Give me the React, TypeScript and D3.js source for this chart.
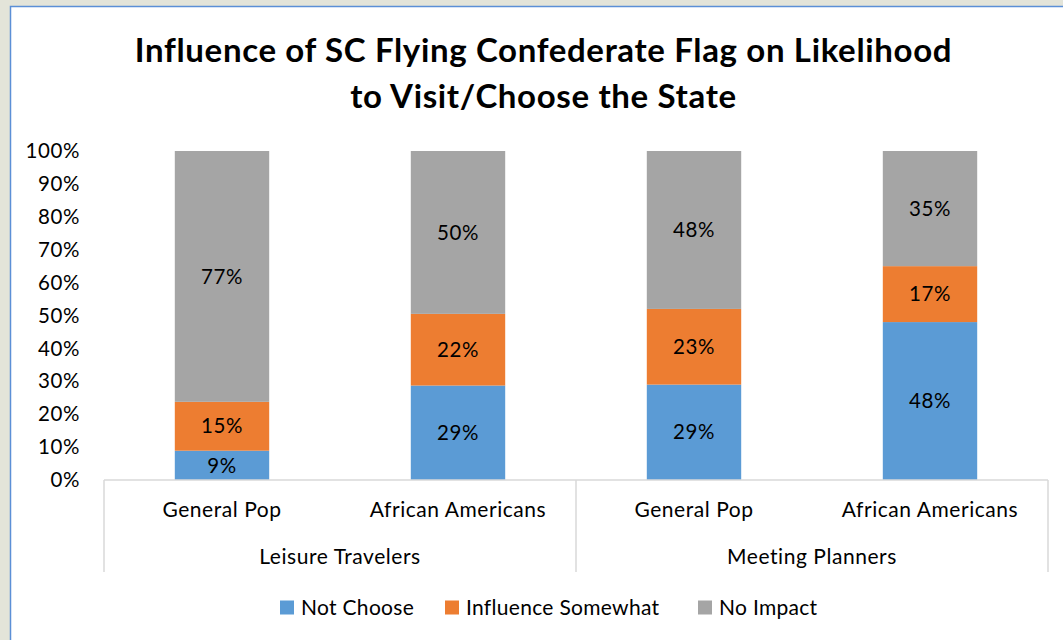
import React from "react";
import * as d3 from "d3";

const categories = ["General Pop", "African Americans", "General Pop", "African Americans"];
const groups = ["Leisure Travelers", "Meeting Planners"];
const seriesNames = ["Not Choose", "Influence Somewhat", "No Impact"];
const notChoose = [9, 29, 29, 48];
const influenceSomewhat = [15, 22, 23, 17];
const noImpact = [77, 50, 48, 35];
const yTicks = [0, 0.1, 0.2, 0.3, 0.4, 0.5, 0.6, 0.7, 0.8, 0.9, 1.0];
const colors = ["#5b9bd5", "#ed7d31", "#a5a5a5"];

const FONT = "Lato, 'Open Sans', sans-serif";

export default function App() {
  const W = 1063, H = 640;
  const left = 104, right = 1048, top = 151, bottom = 480;
  const x = d3.scaleBand<number>().domain(d3.range(categories.length)).range([left, right]).paddingInner(0.6).paddingOuter(0.3);
  const band = d3.scaleBand<number>().domain(d3.range(categories.length)).range([left, right]);
  const y = d3.scaleLinear().domain([0, 1]).range([bottom, top]);
  const rows = categories.map((c, i) => {
    const vals = [notChoose[i], influenceSomewhat[i], noImpact[i]];
    const tot = d3.sum(vals);
    return { c, i, vals, tot };
  });
  const stackData = rows.map(r => ({ i: r.i, s0: r.vals[0] / r.tot, s1: r.vals[1] / r.tot, s2: r.vals[2] / r.tot, raw: r.vals }));
  const stack = d3.stack<any>().keys(["s0", "s1", "s2"])(stackData);
  const fmt = d3.format(".0%");
  const groupX = (g: number) => [band(g * 2)!, band(g * 2 + 1)! + band.bandwidth()];
  const legendX = [280, 445, 698];

  return (
    <svg width={W} height={H} style={{ position: "absolute", left: 0, top: 0, display: "block" }} fontFamily={FONT}>
      <rect x={0} y={0} width={W} height={H} fill="#e3e4d9" />
      <rect x={10.5} y={6.5} width={W + 20} height={H + 20} fill="#ffffff" stroke="#5b8fd6" strokeWidth={1.5} />
      <text x={543.5} y={62} textAnchor="middle" fontSize={33} fontWeight="bold" letterSpacing={0.65} fill="#000">
        Influence of SC Flying Confederate Flag on Likelihood
      </text>
      <text x={543.5} y={108} textAnchor="middle" fontSize={33} fontWeight="bold" letterSpacing={0.65} fill="#000">
        to Visit/Choose the State
      </text>
      {yTicks.map(t => (
        <text key={t} x={80} y={y(t)} dy="0.35em" textAnchor="end" fontSize={20.5} letterSpacing={0.6} fill="#000">{fmt(t)}</text>
      ))}
      {stack.map((layer, k) => (
        <g key={k}>
          {layer.map((d, j) => (
            <rect key={j} x={x(j)} y={y(d[1])} width={x.bandwidth()} height={y(d[0]) - y(d[1])} fill={colors[k]} />
          ))}
        </g>
      ))}
      {stack.map((layer, k) => (
        <g key={"l" + k}>
          {layer.map((d, j) => (
            <text key={j} x={x(j)! + x.bandwidth() / 2} y={(y(d[0]) + y(d[1])) / 2} dy="0.35em" textAnchor="middle" fontSize={20.5} letterSpacing={0.6} fill="#000">
              {stackData[j].raw[k] + "%"}
            </text>
          ))}
        </g>
      ))}
      <line x1={left} x2={right} y1={bottom} y2={bottom} stroke="#d9d9d9" strokeWidth={1.5} />
      {[left, (left + right) / 2, right].map((lx, i) => (
        <line key={i} x1={lx} x2={lx} y1={bottom} y2={572} stroke="#d9d9d9" strokeWidth={1.5} />
      ))}
      {categories.map((c, i) => (
        <text key={i} x={band(i)! + band.bandwidth() / 2} y={510} dy="0.35em" textAnchor="middle" fontSize={21} letterSpacing={0.55} fill="#000">{c}</text>
      ))}
      {groups.map((g, i) => {
        const [a, b] = groupX(i);
        return <text key={i} x={(a + b) / 2} y={557} dy="0.35em" textAnchor="middle" fontSize={21} letterSpacing={0.55} fill="#000">{g}</text>;
      })}
      {seriesNames.map((s, i) => (
        <g key={s}>
          <rect x={legendX[i]} y={600.5} width={14} height={14} fill={colors[i]} />
          <text x={legendX[i] + 21} y={607.5} dy="0.35em" fontSize={21} letterSpacing={0.3} fill="#000">{s}</text>
        </g>
      ))}
    </svg>
  );
}
